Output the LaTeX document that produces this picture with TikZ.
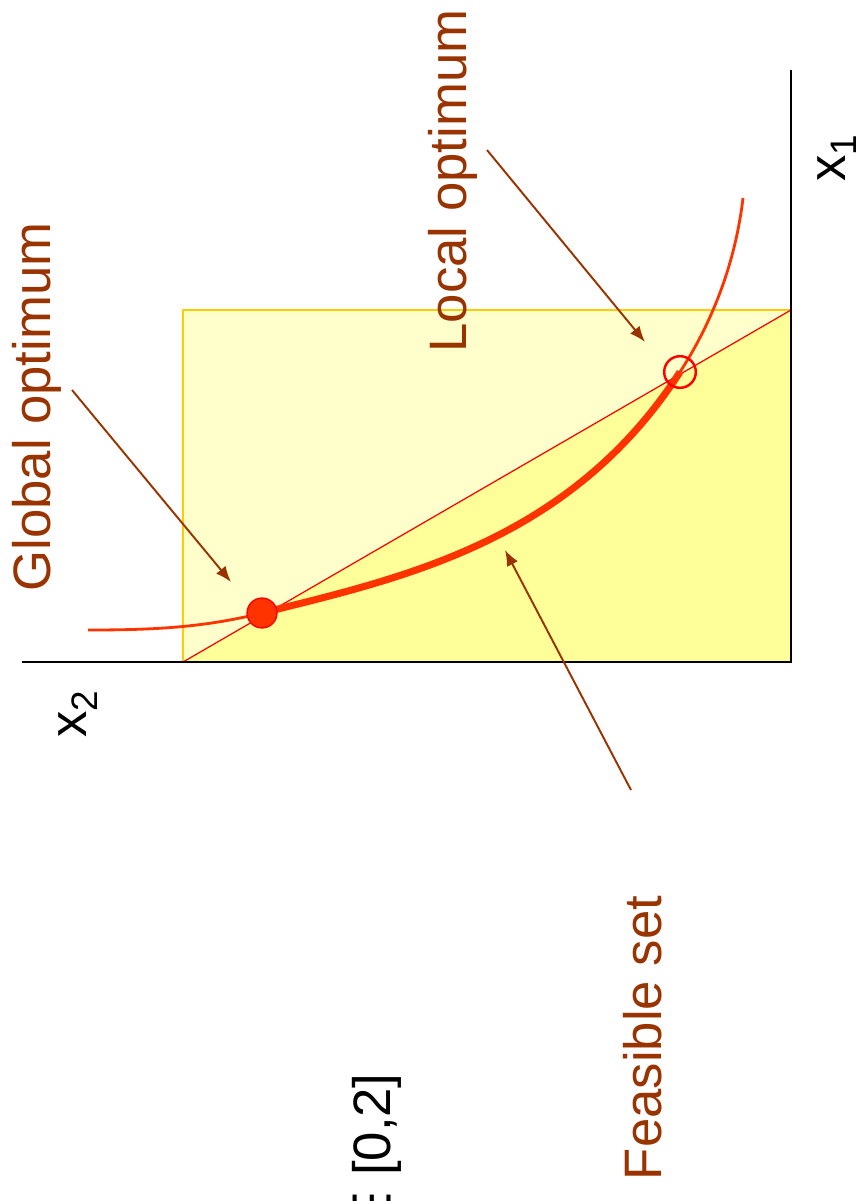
\documentclass[tikz,border=0pt]{standalone}
\usepackage{fontspec}
\setmainfont{Liberation Sans}
\newfontfamily\symfont{DejaVu Sans}
\usetikzlibrary{arrows.meta}
\definecolor{optbrown}{HTML}{993300}
\definecolor{curvered}{HTML}{FF3300}
\definecolor{paleyellow}{HTML}{FFFFCC}
\definecolor{feasyellow}{HTML}{FFFF99}
\definecolor{boxgold}{HTML}{FFCC00}
\tikzset{
  optlabel/.style={font=\fontsize{30}{36}\selectfont, text=optbrown, rotate=90, inner sep=0pt},
  axislabel/.style={font=\fontsize{30}{36}\selectfont, rotate=90, inner sep=0pt},
  pointer/.style={-{Latex[length=9pt,width=7pt]}, optbrown, line width=1.1pt},
}
\begin{document}
\begin{tikzpicture}[x=0.02cm, y=-0.02cm]
        \useasboundingbox (0,0) rectangle (863,1201);
        % Define coordinates
        \coordinate (O) at (791,662);
        \coordinate (A) at (183,662);
        \coordinate (B) at (791,310);
        \coordinate (C) at (183,310);
        \coordinate (G) at (262,613);
        \coordinate (L) at (680,372);
        \coordinate (P) at (88,630);
        \coordinate (Q) at (743,198);
        % Box and feasible part
        \filldraw[fill=paleyellow, draw=boxgold, line width=1.2pt] (C) rectangle (O);
        \fill[feasyellow] (A) -- (B) -- (O) -- cycle;
        \draw[red, line width=0.7pt] (A) -- (B);
        % Axes
        \draw[line width=1.4pt] (22,662) -- (O) -- (791,70);
        % Objective curve
        \draw[curvered, line width=1.6pt] (P) .. controls (150,630) and (202,628) .. (G)
          .. controls (402,578) and (570,542) .. (L)
          .. controls (715,318) and (736,258) .. (Q);
        \draw[curvered, line width=4pt] (G) .. controls (402,578) and (570,542) .. (L);
        % Optima
        \filldraw[fill=curvered, draw=red, line width=0.8pt] (G) circle (8.5pt);
        \draw[red, line width=1.4pt] (L) circle (9pt);
        % Labels
        \node[optlabel] (global) at (37,407) {Global optimum};
        \node[optlabel] (local) at (453,181) {Local optimum};
        \node[optlabel] (feasible) at (643,1038) {Feasible set};
        \node[axislabel] (xone) at (837,158) {x\textsubscript{1}};
        \node[axislabel] (xtwo) at (78,714) {x\textsubscript{2}};
        \node[axislabel, anchor=base east] (range) at (390,1073) {{\symfont ∈} [0,2]};
        % Pointers
        \coordinate (global tail) at (72,390);
        \coordinate (global tip) at (231,582);
        \coordinate (local tail) at (487,150);
        \coordinate (local tip) at (645,342);
        \coordinate (feasible tail) at (631,790);
        \coordinate (feasible tip) at (505,550);
        \draw[pointer] (global tail) -- (global tip);
        \draw[pointer] (local tail) -- (local tip);
        \draw[pointer] (feasible tail) -- (feasible tip);
\end{tikzpicture}
\end{document}
